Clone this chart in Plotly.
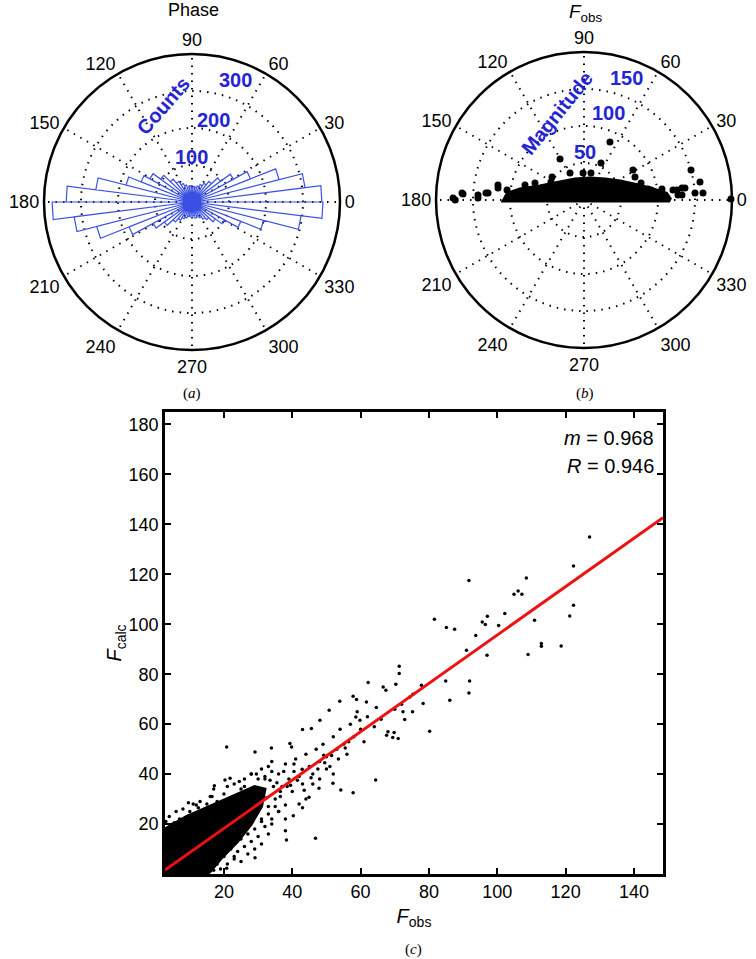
import numpy as np
import plotly.graph_objects as go

# ---------------- (a) rose histogram of phases (50 bins of 7.2 deg) ----------------
rose_nbins = 50
rose_counts = [351, 308, 243, 170, 128, 95, 72, 60, 52, 45,
               40, 42, 38, 44, 40, 48, 55, 66, 80, 105,
               130, 148, 184, 262, 340, 378, 321, 266, 183, 120,
               92, 70, 58, 50, 45, 40, 38, 42, 37, 44,
               41, 47, 55, 62, 78, 100, 142, 200, 297, 354]
rose_rmax = 400
rose_rings = [100, 200, 300]

# ---------------- (b) F_obs magnitude vs phase ----------------
band_theta = [0, 0, 4.1, 8, 14, 26.6, 43.6, 74, 114.2, 144.7, 163.5, 171.1, 175.5, 180, 0]
band_r = [0, 116, 111, 95, 77, 54.4, 39, 29.5, 29.6, 39.7, 62, 87.5, 103, 107, 0]
pts_theta = [180, 177.2, 178.9, 175.9, 172.1, 165.7, 160.9, 151.4, 120.3, 92, 75.5, 65.3, 65.9,
             24.3, 16.6, 8.5, 5.9, 3, 7, 15.7, 8.8, 3.4, 3.6, 0.4, 6.1, 6.8, 31.5, 144.3, 117.4,
             172.6, 175.8, 177.3, 179.1, 176.7, 170.1, 9.8, 8, 6.4, 2.9]
pts_r = [174, 163.7, 143.3, 132.8, 117.3, 82.3, 70.1, 50.8, 64.2, 36.5, 37.7, 55, 85.9,
         75.6, 80.4, 91.5, 104.6, 127.2, 133.4, 150.2, 158.6, 161.1, 150.3, 198.6, 126.4, 137.4, 77.6, 53.2, 41.1,
         104.9, 130, 143.4, 177, 165.1, 118, 87.8, 106.4, 121, 132.6]
mag_rmax = 200
mag_rings = [50, 100, 150]

ang_ticks = list(range(0, 360, 30))

# ---------------- (c) F_calc vs F_obs ----------------
core_x = [2.75, 9, 14, 19, 24, 29, 32, 31, 28, 24, 19, 16, 15, 2.75]
core_y = [18, 23, 26, 29, 32, 35, 34, 27, 20, 13, 6, 1, 0, 0]
sc_x = [127.0, 122.3, 91.7, 108.5, 104.9, 106.1, 107.2, 81.6, 85.1, 87.5, 95.6, 97.1, 96.5, 100.4,
        102.2, 110.9, 122.3, 121.2, 93.7, 97, 109, 112.9, 112.9, 118.7, 91, 84.9, 91.9, 91.7, 86.1,
        80.2, 71.3, 71.3, 70.3, 62.2, 66.6, 67.4, 77.8, 75.3, 74.4, 78.3, 75.2, 72.4, 72.9, 69.8, 71,
        69.4, 67.6, 64.6, 64.4, 57.8, 54.2, 51.9, 46.8, 38.3, 38, 29.1, 20.8, 29.1, 33.9, 43, 45.6,
        53.9, 50.8, 57.8, 58.8, 61.7, 59.8, 58.6, 48.1, 49.2, 39.8, 39.3, 42.9, 47.8, 44.9, 43, 38,
        40.3, 17.2, 20.3, 21.8, 9.6, 11.9, 4.2, 20.8, 14.9,
        36, 37, 38, 39, 40, 41, 42, 43, 44, 45, 46, 47, 48, 49, 50, 51, 52, 53, 54, 55, 56, 57, 58,
        59, 60, 61, 62, 64, 66, 68, 70, 72, 35, 33, 34, 32, 31, 30, 29, 28, 27, 26, 25, 24, 23, 22,
        21, 20, 19, 18, 44, 46, 50, 52, 48, 42, 38, 36, 34, 33, 31, 29, 27, 25, 23,
        35.5, 37.5, 36.5, 39.5, 41.5, 40.5, 34.5, 32.5, 30.5, 26.5, 24.5, 22.5, 43.5, 45.5, 47.5,
        55.5, 53.5, 56.5, 51.5, 49.5,
        3, 4, 5, 6, 7, 8, 10, 11, 12, 13, 15, 16, 17, 18, 20, 21, 22, 23, 25, 26, 27, 28, 30, 31,
        32, 33, 34, 17, 18, 19, 20, 21, 22, 23, 24, 25, 26, 27, 28, 29, 30, 31, 32, 33, 34, 35, 36,
        3.5, 5.5, 7.5, 9.5, 12.5, 14.5, 16.5, 19.5, 24.5, 29.5, 33.5, 36.5, 38.5, 40.5]
sc_y = [134.9, 123.3, 117.5, 118.5, 112, 113.3, 112, 102, 98.7, 98, 100.9, 103.2, 99.9, 99.5,
        104.3, 101.6, 107.6, 103.3, 95.5, 87.6, 87.9, 92.3, 91.2, 91.3, 89.6, 77.3, 77.3, 72.5, 69.6,
        57.2, 83.2, 80.3, 76, 76.7, 74.9, 73.6, 75.6, 72, 70.9, 68.3, 65, 65, 61.9, 56.7, 54.3,
        54.7, 55.6, 66.7, 37.6, 32.5, 33.6, 36.3, 14.3, 13.6, 17.3, 6.5, 50.9, 48.9, 50.5, 57.9, 58.3,
        69.2, 65.6, 71.2, 69.9, 68.9, 61.6, 62.9, 61.6, 47.6, 50.9, 52.3, 41.9, 34.3, 30.7, 26.5, 27.6,
        23.3, 35.3, 37.6, 38.3, 28.5, 27.6, 18.3, 2.3, 5.6,
        40, 35, 44, 38, 33, 46, 39, 36, 48, 43, 40, 50, 45, 52, 47, 43, 55, 50, 58, 52, 48, 60, 55,
        65, 58, 53, 63, 59, 62, 57, 66, 68, 30, 27, 45, 38, 22, 25, 33, 40, 21, 35, 18, 30, 15, 26,
        12, 20, 10, 25, 30, 36, 42, 40, 38, 28, 22, 25, 20, 16, 12, 10, 8, 5, 7,
        36.5, 41, 31, 35.5, 37.5, 44, 35, 30.5, 33, 29, 28, 24, 33.5, 38.5, 42, 50.5, 46, 53, 47.5, 44.5,
        21, 23, 20, 25, 22, 26, 25, 28, 24, 29, 28, 31, 34, 29, 32, 35, 30, 36, 34, 38, 33, 40, 38, 42,
        39, 43, 41, 1.5, 4, 2, 7, 4, 10, 6, 9, 14, 11, 16, 13, 18, 15, 21, 19, 24, 22, 27, 25,
        16, 20.5, 17, 23, 26.5, 19, 31, 27, 37, 40, 37.5, 33, 35, 41]
fit_m = 0.968
fit_b = -1.1
fit_R = 0.946
fobs_range = [2.75, 148.5]
fcalc_range = [0, 185]
x_ticks = [20, 40, 60, 80, 100, 120, 140]
y_ticks = [20, 40, 60, 80, 100, 120, 140, 160, 180]

W, H = 756, 959
def fx(p):
    return p / W
def fy(p):
    return 1 - p / H

FONT = "Liberation Sans, Arial, sans-serif"
SERIF = "Liberation Serif, Times New Roman, serif"
ROSE_BLUE = "#3a50e4"
LABEL_BLUE = "#2424d4"

# rose outline vertices built from bin edges and counts
edges = np.arange(rose_nbins + 1) * 360.0 / rose_nbins
rose_r, rose_t = [], []
for i, c in enumerate(rose_counts):
    rose_r += [0, c, c, 0]
    rose_t += [edges[i], edges[i], edges[i + 1], edges[i + 1]]

fig = go.Figure()

fig.add_trace(go.Scatterpolar(r=rose_r, theta=rose_t, mode="lines",
                              line=dict(color=ROSE_BLUE, width=1.2),
                              subplot="polar", showlegend=False, hoverinfo="skip"))

fig.add_trace(go.Scatterpolar(r=band_r, theta=band_theta, mode="lines", fill="toself",
                              fillcolor="black", line=dict(color="black", width=5),
                              subplot="polar2", showlegend=False, hoverinfo="skip"))
fig.add_trace(go.Scatterpolar(r=pts_r, theta=pts_theta, mode="markers",
                              marker=dict(color="black", size=7),
                              subplot="polar2", showlegend=False))

fig.add_trace(go.Scatter(x=core_x, y=core_y, mode="lines", fill="toself", fillcolor="black",
                         line=dict(color="black", width=3), showlegend=False, hoverinfo="skip"))
fig.add_trace(go.Scatter(x=sc_x, y=sc_y, mode="markers",
                         marker=dict(color="black", size=3.5), showlegend=False))
fit_x = np.array(fobs_range)
fig.add_trace(go.Scatter(x=fit_x, y=fit_m * fit_x + fit_b, mode="lines",
                         line=dict(color="#ee1111", width=3), showlegend=False))

def polar_layout(dom_x, dom_y, rmax, rings):
    return dict(
        domain=dict(x=dom_x, y=dom_y),
        bgcolor="white",
        angularaxis=dict(rotation=0, direction="counterclockwise",
                         tickvals=ang_ticks, ticktext=[str(a) for a in ang_ticks],
                         showline=True, linecolor="black", linewidth=2.5,
                         ticks="", showgrid=True, gridcolor="black", gridwidth=1.5,
                         griddash="1.5px,6px",
                         tickfont=dict(family=FONT, size=18, color="black")),
        radialaxis=dict(range=[0, rmax], tickvals=rings, showticklabels=False,
                        showline=False, ticks="", showgrid=True, gridcolor="black",
                        gridwidth=1.5, griddash="1.5px,6px"),
    )

fig.update_layout(
    width=W, height=H, margin=dict(l=0, r=0, t=0, b=0, autoexpand=False),
    paper_bgcolor="white", plot_bgcolor="white",
    polar=polar_layout([fx(44), fx(340)], [fy(350), fy(54)], rose_rmax, rose_rings),
    polar2=polar_layout([fx(436), fx(732)], [fy(348), fy(52)], mag_rmax, mag_rings),
    xaxis=dict(domain=[fx(165), fx(663)], range=fobs_range, tickvals=x_ticks, automargin=False,
               ticks="inside", ticklen=6, tickwidth=1.5, tickcolor="black",
               showline=True, linecolor="black", linewidth=2.5, mirror="ticks",
               showgrid=False, zeroline=False,
               tickfont=dict(family=FONT, size=18, color="black"),
               title=dict(text="<i>F</i><sub>obs</sub>", standoff=8,
                          font=dict(family=FONT, size=20, color="black"))),
    yaxis=dict(domain=[fy(874), fy(412)], range=fcalc_range, tickvals=y_ticks, automargin=False,
               ticks="inside", ticklen=6, tickwidth=1.5, tickcolor="black",
               showline=True, linecolor="black", linewidth=2.5, mirror="ticks",
               showgrid=False, zeroline=False,
               tickfont=dict(family=FONT, size=18, color="black"),
               title=dict(text="<i>F</i><sub>calc</sub>", standoff=0,
                          font=dict(family=FONT, size=20, color="black"))),
)

ann = []
def add(text, x, y, size, color="black", family=FONT, angle=0, xanchor="center", xref="paper", yref="paper"):
    ann.append(dict(text=text, x=x, y=y, xref=xref, yref=yref, showarrow=False,
                    xanchor=xanchor, yanchor="middle", textangle=angle,
                    font=dict(family=family, size=size, color=color)))

add("Phase", fx(193), fy(10), 18)
add("<i>F</i><sub>obs</sub>", fx(585), fy(13), 19)
add("(<i>a</i>)", fx(192), fy(393), 15, family=SERIF)
add("(<i>b</i>)", fx(585), fy(393), 15, family=SERIF)
add("(<i>c</i>)", fx(413), fy(949), 15, family=SERIF)
add("<b>Counts</b>", fx(163), fy(106), 20, color=LABEL_BLUE, angle=-49)
add("<b>Magnitude</b>", fx(557), fy(113), 20, color=LABEL_BLUE, angle=-51)
for t, (px, py) in zip(rose_rings, [(191, 157), (213, 120), (235, 80)]):
    add("<b>%d</b>" % t, fx(px), fy(py), 20, color=LABEL_BLUE)
for t, (px, py) in zip(mag_rings, [(585, 152), (608, 113), (626, 78)]):
    add("<b>%d</b>" % t, fx(px), fy(py), 20, color=LABEL_BLUE)
add("<i>m</i> = %.3f" % fit_m, 146.5, 174.5, 20, xanchor="right", xref="x", yref="y")
add("<i>R</i> = %.3f" % fit_R, 146.5, 163.5, 20, xanchor="right", xref="x", yref="y")
fig.update_layout(annotations=ann)

# remove the browser's default 8 px page margin so the figure sits at the window origin
fig.write_html("out.html", config={"displayModeBar": False},
               post_script="document.body.style.margin='0';document.body.style.overflow='hidden';")
